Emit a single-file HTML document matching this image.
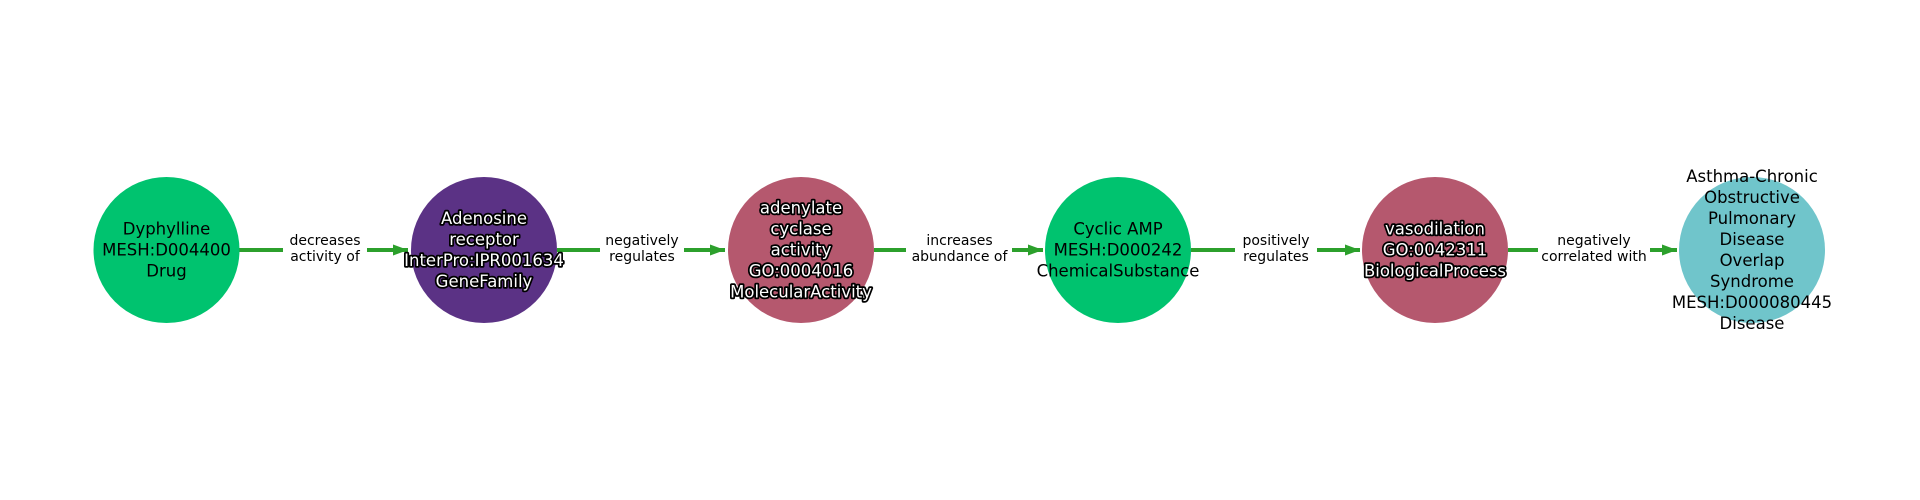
<!DOCTYPE html>
<html><head><meta charset="utf-8"><style>
html,body{margin:0;padding:0;background:#fff;}
svg{display:block;}
text{font-family:"DejaVu Sans","Liberation Sans",sans-serif;}
.n{font-size:16.5px;text-anchor:middle;dominant-baseline:central;}
.w{fill:#fff;stroke:#000;stroke-width:3.5px;paint-order:stroke;stroke-linejoin:round;}
.e{font-size:14px;text-anchor:middle;dominant-baseline:central;fill:#000;}
</style></head><body>
<svg width="1920" height="500" viewBox="0 0 1920 500" xmlns="http://www.w3.org/2000/svg">
<defs>
<marker id="a" markerWidth="3.8" markerHeight="2.8" refX="3.8" refY="1.4" orient="auto" markerUnits="strokeWidth">
<path d="M0,0 L3.8,1.4 L0,2.8 z" fill="#2ca02c"/>
</marker>
</defs>
<g stroke="#2ca02c" stroke-width="4" fill="none">
<line x1="239" y1="250" x2="408" y2="250" marker-end="url(#a)"/>
<line x1="557" y1="250" x2="725" y2="250" marker-end="url(#a)"/>
<line x1="874" y1="250" x2="1043" y2="250" marker-end="url(#a)"/>
<line x1="1191" y1="250" x2="1360" y2="250" marker-end="url(#a)"/>
<line x1="1508" y1="250" x2="1677" y2="250" marker-end="url(#a)"/>
</g>
<g fill="#fff">
<rect x="283" y="230" width="84" height="40"/>
<rect x="600" y="230" width="84" height="40"/>
<rect x="906" y="230" width="106" height="40"/>
<rect x="1235" y="230" width="82" height="40"/>
<rect x="1538" y="230" width="112" height="40"/>
</g>
<circle cx="166.5" cy="250" r="73" fill="#00c36f"/>
<circle cx="484" cy="250" r="73" fill="#5b3285"/>
<circle cx="801" cy="250" r="73" fill="#b5586e"/>
<circle cx="1118" cy="250" r="73" fill="#00c36f"/>
<circle cx="1435" cy="250" r="73" fill="#b5586e"/>
<circle cx="1752" cy="250" r="73" fill="#70c5cb"/>
<g class="e">
<text x="325" y="241">decreases</text><text x="325" y="257">activity of</text>
<text x="642" y="241">negatively</text><text x="642" y="257">regulates</text>
<text x="959.5" y="241">increases</text><text x="959.5" y="257">abundance of</text>
<text x="1276" y="241">positively</text><text x="1276" y="257">regulates</text>
<text x="1594" y="241">negatively</text><text x="1594" y="257">correlated with</text>
</g>
<g class="n">
<text x="166.5" y="229">Dyphylline</text><text x="166.5" y="250">MESH:D004400</text><text x="166.5" y="271">Drug</text>
<g class="w">
<text x="484" y="218.5">Adenosine</text><text x="484" y="239.5">receptor</text><text x="484" y="260.5">InterPro:IPR001634</text><text x="484" y="281.5">GeneFamily</text>
<text x="801" y="208">adenylate</text><text x="801" y="229">cyclase</text><text x="801" y="250">activity</text><text x="801" y="271">GO:0004016</text><text x="801" y="292">MolecularActivity</text>
<text x="1435" y="229">vasodilation</text><text x="1435" y="250">GO:0042311</text><text x="1435" y="271">BiologicalProcess</text>
</g>
<text x="1118" y="229">Cyclic AMP</text><text x="1118" y="250">MESH:D000242</text><text x="1118" y="271">ChemicalSubstance</text>
<text x="1752" y="176.5">Asthma-Chronic</text><text x="1752" y="197.5">Obstructive</text><text x="1752" y="218.5">Pulmonary</text><text x="1752" y="239.5">Disease</text><text x="1752" y="260.5">Overlap</text><text x="1752" y="281.5">Syndrome</text><text x="1752" y="302.5">MESH:D000080445</text><text x="1752" y="323.5">Disease</text>
</g>
</svg>
</body></html>
